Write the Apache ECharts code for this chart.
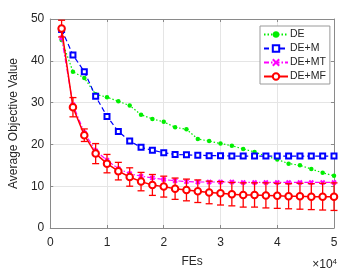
<!DOCTYPE html>
<html>
<head>
<meta charset="utf-8">
<script src="https://cdn.jsdelivr.net/npm/echarts@6/dist/echarts.min.js"></script>
<style>
  html, body { margin: 0; padding: 0; background: #fff; }
  #chart { width: 359px; height: 273px; }
</style>
</head>
<body>
<div id="chart"></div>
<script>
// evaluation points (FEs)
var fes = [2000, 4000, 6000, 8000, 10000, 12000, 14000, 16000, 18000, 20000, 22000, 24000, 26000,
           28000, 30000, 32000, 34000, 36000, 38000, 40000, 42000, 44000, 46000, 48000, 50000];

var deVals   = [45.0, 37.4, 35.9, 32.0, 31.3, 30.3, 29.3, 27.1, 26.1, 25.4, 24.1, 23.6, 21.3,
                20.8, 20.2, 19.7, 18.9, 18.2, 17.2, 16.4, 15.4, 15.0, 14.1, 13.2, 12.5];
var demVals  = [47.5, 41.4, 37.4, 31.5, 26.7, 23.1, 20.8, 19.3, 18.6, 18.0, 17.6, 17.5, 17.4,
                17.3, 17.3, 17.2, 17.2, 17.2, 17.2, 17.2, 17.2, 17.2, 17.2, 17.2, 17.2];
var demtVals = [45.5, 29.5, 22.8, 18.5, 16.2, 14.2, 13.0, 12.4, 12.0, 11.6, 11.3, 11.1, 11.0,
                11.0, 11.0, 11.0, 10.9, 10.9, 10.9, 10.9, 10.9, 10.9, 10.9, 10.9, 10.9];
var demfVals = [47.7, 28.9, 22.2, 17.8, 15.4, 13.6, 12.2, 11.1, 10.3, 9.9, 9.4, 9.1, 8.8,
                8.5, 8.3, 8.1, 7.9, 7.9, 7.8, 7.7, 7.6, 7.6, 7.5, 7.5, 7.5];
// half length of the DE+MF error bars
var demfErr  = [2.0, 2.3, 1.5, 2.4, 2.2, 2.1, 2.2, 2.2, 2.5, 2.5, 2.55, 2.6, 2.7,
                2.7, 2.8, 2.8, 2.9, 2.9, 3.0, 3.0, 3.0, 3.1, 3.1, 3.2, 3.3];

var names = ['DE', 'DE+M', 'DE+MT', 'DE+MF'];

function pairs(vals) {
    return fes.map(function (x, i) { return [x, vals[i]]; });
}

var errData = fes.map(function (x, i) {
    return [x, demfVals[i] - demfErr[i], demfVals[i] + demfErr[i]];
});

var txt = '#262626';
var axisCol = '#8a8a8a';
var font = 'Liberation Sans';

var chart = echarts.init(document.getElementById('chart'));

var option = {
    animation: false,
    textStyle: { fontFamily: font },
    grid: { left: 49, right: 25, top: 19, bottom: 36, containLabel: false },
    legend: {
        data: names,
        orient: 'vertical',
        left: 260,
        top: 26,
        itemWidth: 24,
        itemHeight: 8,
        itemGap: 3,
        padding: [3, 4, 2, 3],
        borderColor: '#9a9a9a',
        borderWidth: 1,
        backgroundColor: '#fff',
        textStyle: { fontSize: 10.5, color: txt, fontFamily: font, padding: [0, 0, 0, -3] }
    },
    xAxis: [{
        type: 'value',
        min: 0,
        max: 50000,
        interval: 10000,
        name: 'FEs',
        nameLocation: 'middle',
        nameGap: 28,
        nameTextStyle: { fontSize: 12, color: txt },
        axisLine: { show: true, lineStyle: { color: axisCol } },
        axisTick: { show: true, inside: true, length: 3, lineStyle: { color: axisCol } },
        axisLabel: {
            fontSize: 12, color: txt, margin: 9,
            formatter: function (v) { return String(v / 10000); }
        },
        splitLine: { show: true, lineStyle: { color: '#e5e5e5' } }
    }, {
        type: 'value',
        position: 'top',
        min: 0,
        max: 50000,
        interval: 10000,
        axisLine: { show: true, onZero: false, lineStyle: { color: axisCol } },
        axisTick: { show: true, inside: true, length: 3, lineStyle: { color: axisCol } },
        axisLabel: { show: false },
        splitLine: { show: false }
    }],
    yAxis: [{
        type: 'value',
        min: 0,
        max: 50,
        interval: 10,
        name: 'Average Objective Value',
        nameLocation: 'middle',
        nameGap: 27,
        nameTextStyle: { fontSize: 12, color: txt },
        axisLine: { show: true, lineStyle: { color: axisCol } },
        axisTick: { show: true, inside: true, length: 3, lineStyle: { color: axisCol } },
        axisLabel: { fontSize: 12, color: txt, margin: 6 },
        splitLine: { show: true, lineStyle: { color: '#e5e5e5' } }
    }, {
        type: 'value',
        position: 'right',
        min: 0,
        max: 50,
        interval: 10,
        axisLine: { show: true, onZero: false, lineStyle: { color: axisCol } },
        axisTick: { show: true, inside: true, length: 3, lineStyle: { color: axisCol } },
        axisLabel: { show: false },
        splitLine: { show: false }
    }],
    graphic: [{
        type: 'text',
        right: 22,
        top: 258,
        style: {
            text: '×10{s|4}',
            fill: txt,
            font: '12px ' + font,
            rich: { s: { fontSize: 8, verticalAlign: 'top', padding: [0, 0, 6, 0], fill: txt } }
        }
    }],
    series: [{
        name: 'DE',
        type: 'line',
        data: pairs(deVals),
        symbol: 'circle',
        symbolSize: 4.5,
        color: '#00ee00',
        lineStyle: { width: 1.2, type: [1.5, 2] },
        z: 2
    }, {
        name: 'DE+M',
        type: 'line',
        data: pairs(demVals),
        symbol: 'emptyRect',
        symbolSize: 5,
        color: '#0000ff',
        lineStyle: { width: 1.2, type: [5, 3] },
        itemStyle: { borderWidth: 1.2 },
        z: 3
    }, {
        name: 'DE+MT',
        type: 'line',
        data: pairs(demtVals),
        symbol: 'path://M0,0 L10,10 M10,0 L0,10',
        symbolSize: 4,
        color: '#ff00ff',
        lineStyle: { width: 1.2, type: [5, 2, 1.5, 2] },
        itemStyle: { borderColor: '#ff00ff', borderWidth: 2 },
        z: 4
    }, {
        name: 'DE+MF',
        type: 'line',
        data: pairs(demfVals),
        symbol: 'emptyCircle',
        symbolSize: 6.5,
        color: '#ff0000',
        lineStyle: { width: 1.5 },
        itemStyle: { borderWidth: 1.3 },
        z: 6
    }, {
        name: 'DE+MF',
        type: 'custom',
        data: errData,
        z: 5,
        renderItem: function (params, api) {
            var x = api.value(0);
            var lo = api.coord([x, api.value(1)]);
            var hi = api.coord([x, api.value(2)]);
            var w = 3.5;
            var st = { stroke: '#ff0000', lineWidth: 1.3 };
            return {
                type: 'group',
                children: [
                    { type: 'line', shape: { x1: lo[0], y1: lo[1], x2: hi[0], y2: hi[1] }, style: st },
                    { type: 'line', shape: { x1: lo[0] - w, y1: lo[1], x2: lo[0] + w, y2: lo[1] }, style: st },
                    { type: 'line', shape: { x1: hi[0] - w, y1: hi[1], x2: hi[0] + w, y2: hi[1] }, style: st }
                ]
            };
        }
    }]
};

chart.setOption(option);
window.addEventListener('resize', function () {
    chart.resize();
});
</script>
</body>
</html>
